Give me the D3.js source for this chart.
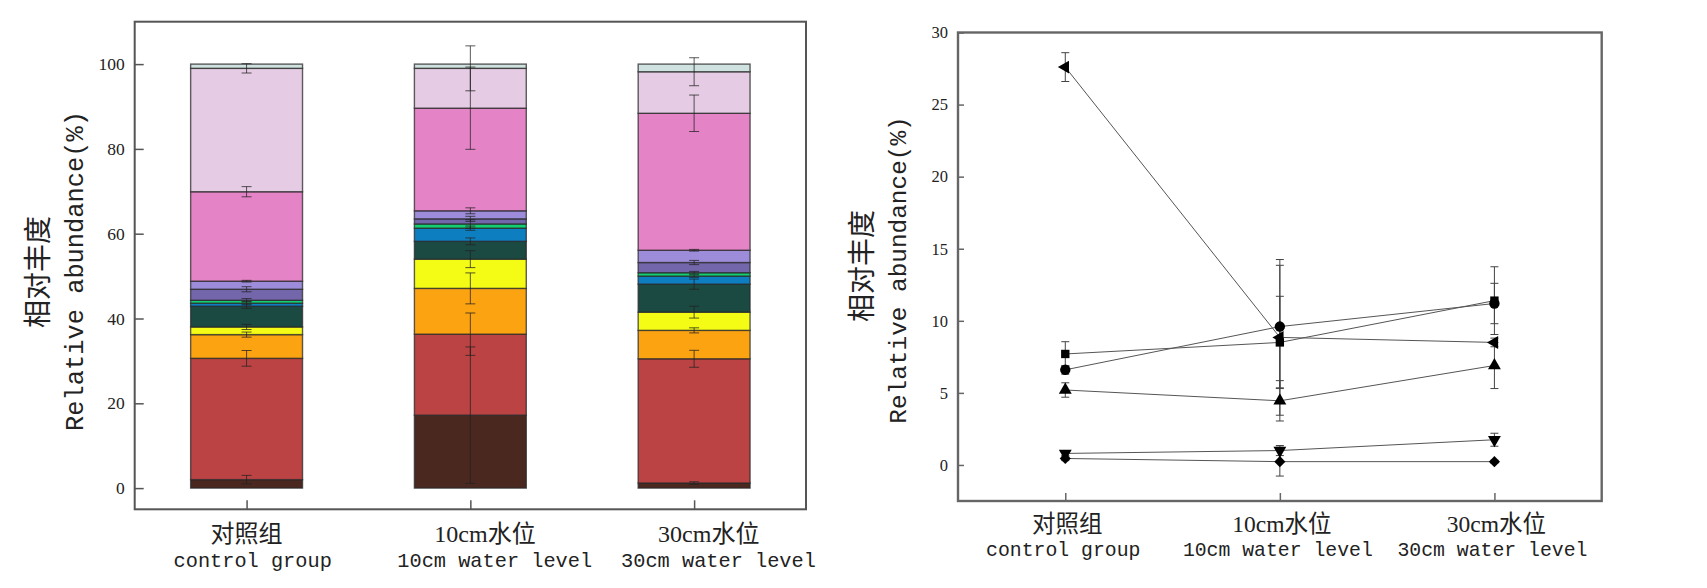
<!DOCTYPE html>
<html>
<head>
<meta charset="utf-8">
<script src="https://cdn.jsdelivr.net/npm/d3@7/dist/d3.min.js"></script>
<style>
  body { margin: 0; background: #fff; }
  svg { display: block; }
</style>
</head>
<body>
<div id="chart"></div>
<script>
// 处理组
var groups = ["对照组", "10cm水位", "30cm水位"];
var groupsEn = ["control group", "10cm water level", "30cm water level"];

// 左图: 堆积柱 (自下而上)
var taxa = ["t1", "t2", "t3", "t4", "t5", "t6", "t7", "t8", "t9", "t10", "t11", "t12"];
var taxaColors = ["#4a2820", "#bc4343", "#fca311", "#f4fb14", "#1b4a42", "#0d7fc0",
                  "#12cf73", "#7466ab", "#9c8cd9", "#e583c7", "#e5cce4", "#cfe2df"];
var stackVals = [
    [2.0, 17.2, 1.2],
    [28.6, 19.1, 29.3],
    [5.6, 10.8, 6.7],
    [1.8, 6.9, 4.3],
    [4.9, 4.2, 6.6],
    [0.7, 3.1, 1.9],
    [0.7, 1.0, 0.8],
    [2.6, 1.2, 2.4],
    [1.9, 1.9, 2.9],
    [21.1, 24.2, 32.3],
    [29.1, 9.4, 9.8],
    [1.0, 1.0, 1.8]
];
var stackErr = [
    [1.0, 16.1, 0.3],
    [1.85, 5.0, 2.0],
    [0.6, 3.65, 0.6],
    [0.6, 2.0, 1.4],
    [0.5, 0.8, 1.2],
    [0.4, 0.5, 0.3],
    [0.4, 1.0, 0.3],
    [0.6, 0.6, 0.5],
    [0.2, 0.7, 0.2],
    [1.2, 9.7, 4.3],
    [1.1, 5.3, 3.3],
    [0, 0, 0]
];
var leftTicks = [0, 20, 40, 60, 80, 100];

// 右图: 折线
var lineSymbols = ["left", "square", "circle", "up", "down", "diamond"];
var lineVals = [
    [27.6, 8.85, 8.5],
    [7.7, 8.5, 11.4],
    [6.6, 9.6, 11.2],
    [5.2, 4.45, 6.9],
    [0.8, 1.0, 1.75],
    [0.45, 0.23, 0.23]
];
var lineErr = [
    [1.0, 5.4, 0.3],
    [0.85, 3.2, 2.35],
    [0.3, 4.25, 1.4],
    [0.5, 1.4, 1.6],
    [0.15, 0.35, 0.45],
    [0.15, 1.0, 0.1]
];
var rightTicks = [0, 5, 10, 15, 20, 25, 30];

var W = 1707, H = 588;
var svg = d3.select("#chart").append("svg").attr("width", W).attr("height", H);
svg.append("rect").attr("width", W).attr("height", H).attr("fill", "#fff");

var cjk = "'Noto Sans CJK SC', sans-serif",
    mono = "'Liberation Mono', monospace",
    serif = "'Liberation Serif', serif";

// ---------- 左图 ----------
var L = {x0: 134.7, x1: 806, y0: 21.7, y1: 509.3};
var xL = d3.scalePoint().domain(groups).range([L.x0, L.x1]).padding(0.5);
var yL = d3.scaleLinear().domain([-5, 110]).range([L.y1, L.y0]);
var barW = xL.step() * 0.5;

// 计算堆积
var rows = groups.map(function (g, j) {
    var r = {group: g};
    taxa.forEach(function (t, i) { r[t] = stackVals[i][j]; });
    return r;
});
var series = d3.stack().keys(taxa)(rows);

var gL = svg.append("g");
series.forEach(function (s, i) {
    gL.selectAll(".seg" + i).data(s).enter().append("rect")
        .attr("x", function (d) { return xL(d.data.group) - barW / 2; })
        .attr("y", function (d) { return yL(d[1]); })
        .attr("width", barW)
        .attr("height", function (d) { return yL(d[0]) - yL(d[1]); })
        .attr("fill", taxaColors[i])
        .attr("stroke", "#2a2a2a")
        .attr("stroke-opacity", 0.75)
        .attr("stroke-width", 1.4);
});
// 误差线 (在每段顶端)
series.forEach(function (s, i) {
    s.forEach(function (d, j) {
        var e = stackErr[i][j];
        if (!e) return;
        var cx = xL(d.data.group), top = yL(d[1] + e), bot = yL(d[1] - e);
        var g = gL.append("g").attr("stroke", "#222").attr("stroke-opacity", 0.75).attr("stroke-width", 1);
        g.append("line").attr("x1", cx).attr("x2", cx).attr("y1", top).attr("y2", bot);
        g.append("line").attr("x1", cx - 5).attr("x2", cx + 5).attr("y1", top).attr("y2", top);
        g.append("line").attr("x1", cx - 5).attr("x2", cx + 5).attr("y1", bot).attr("y2", bot);
    });
});

gL.append("rect").attr("x", L.x0).attr("y", L.y0)
    .attr("width", L.x1 - L.x0).attr("height", L.y1 - L.y0)
    .attr("fill", "none").attr("stroke", "#555").attr("stroke-width", 2);

var axL = svg.append("g").attr("transform", "translate(" + L.x0 + ",0)")
    .call(d3.axisLeft(yL).tickValues(leftTicks).tickSize(-9).tickPadding(10));
axL.select(".domain").remove();
axL.selectAll("line").attr("stroke", "#555").attr("stroke-width", 1.5);
axL.selectAll("text").attr("font-family", serif).attr("font-size", 17.5).attr("fill", "#222");

var axLx = svg.append("g").attr("transform", "translate(0," + L.y1 + ")")
    .call(d3.axisBottom(xL).tickSize(-9).tickFormat(""));
axLx.select(".domain").remove();
axLx.selectAll("line").attr("stroke", "#555").attr("stroke-width", 1.5);

groups.forEach(function (g, j) {
    svg.append("text").attr("x", xL(g) - 36).attr("y", 542)
        .attr("font-family", serif + "," + cjk).attr("font-size", 24).attr("fill", "#222").text(g);
    svg.append("text").attr("x", xL(g) - 73).attr("y", 567)
        .attr("font-family", mono).attr("font-size", 20.3).attr("fill", "#222").text(groupsEn[j]);
});

// y轴标题
svg.append("text").attr("transform", "translate(48,272) rotate(-90)")
    .attr("text-anchor", "middle").attr("font-family", cjk).attr("font-size", 28).attr("fill", "#222")
    .text("相对丰度");
svg.append("text").attr("transform", "translate(83,271) rotate(-90)")
    .attr("text-anchor", "middle").attr("font-family", mono).attr("font-size", 25.4).attr("fill", "#222")
    .text("Relative abundance(%)");

// ---------- 右图 ----------
var R = {x0: 958, x1: 1601.7, y0: 32.5, y1: 501};
var xR = d3.scalePoint().domain(groups).range([R.x0, R.x1]).padding(0.5);
var yR = d3.scaleLinear().domain([-2.5, 30]).range([R.y1, R.y0]);
var gR = svg.append("g");

gR.append("rect").attr("x", R.x0).attr("y", R.y0)
    .attr("width", R.x1 - R.x0).attr("height", R.y1 - R.y0)
    .attr("fill", "none").attr("stroke", "#666").attr("stroke-width", 2.4);

var line = d3.line()
    .x(function (d, j) { return xR(groups[j]); })
    .y(function (d) { return yR(d); });

lineVals.forEach(function (vals) {
    gR.append("path").attr("d", line(vals))
        .attr("fill", "none").attr("stroke", "#555").attr("stroke-width", 1);
});
lineVals.forEach(function (vals, i) {
    vals.forEach(function (v, j) {
        var e = lineErr[i][j], cx = xR(groups[j]), top = yR(v + e), bot = yR(v - e);
        var g = gR.append("g").attr("stroke", "#444").attr("stroke-width", 1);
        g.append("line").attr("x1", cx).attr("x2", cx).attr("y1", top).attr("y2", bot);
        g.append("line").attr("x1", cx - 4).attr("x2", cx + 4).attr("y1", top).attr("y2", top);
        g.append("line").attr("x1", cx - 4).attr("x2", cx + 4).attr("y1", bot).attr("y2", bot);
    });
});
// 标记符号
function markerPath(kind) {
    if (kind === "square") return {d: d3.symbol(d3.symbolSquare, 70)(), rot: 0};
    if (kind === "circle") return {d: d3.symbol(d3.symbolCircle, 85)(), rot: 0};
    if (kind === "diamond") return {d: d3.symbol(d3.symbolSquare, 62)(), rot: 45};
    var tri = d3.symbol(d3.symbolTriangle, 72)();
    if (kind === "up") return {d: tri, rot: 0};
    if (kind === "down") return {d: tri, rot: 180};
    return {d: tri, rot: -90};
}
lineVals.forEach(function (vals, i) {
    var m = markerPath(lineSymbols[i]);
    gR.selectAll(".mk" + i).data(vals).enter().append("path")
        .attr("d", m.d)
        .attr("transform", function (d, j) {
            return "translate(" + xR(groups[j]) + "," + yR(d) + ") rotate(" + m.rot + ")";
        })
        .attr("fill", "#000");
});

var axR = svg.append("g").attr("transform", "translate(" + R.x0 + ",0)")
    .call(d3.axisLeft(yR).tickValues(rightTicks).tickSize(-6).tickPadding(10));
axR.select(".domain").remove();
axR.selectAll("line").attr("stroke", "#666").attr("stroke-width", 1.5);
axR.selectAll("text").attr("font-family", serif).attr("font-size", 16.5).attr("fill", "#222");

var axRx = svg.append("g").attr("transform", "translate(0," + R.y1 + ")")
    .call(d3.axisBottom(xR).tickSize(-8).tickFormat(""));
axRx.select(".domain").remove();
axRx.selectAll("line").attr("stroke", "#666").attr("stroke-width", 1.5);

groups.forEach(function (g, j) {
    svg.append("text").attr("x", xR(g) + 2).attr("y", 532).attr("text-anchor", "middle")
        .attr("font-family", serif + "," + cjk).attr("font-size", 23.5).attr("fill", "#222").text(g);
    svg.append("text").attr("x", xR(g) - 2).attr("y", 556).attr("text-anchor", "middle")
        .attr("font-family", mono).attr("font-size", 19.8).attr("fill", "#222").text(groupsEn[j]);
});

svg.append("text").attr("transform", "translate(872,266) rotate(-90)")
    .attr("text-anchor", "middle").attr("font-family", cjk).attr("font-size", 28).attr("fill", "#222")
    .text("相对丰度");
svg.append("text").attr("transform", "translate(906,270) rotate(-90)")
    .attr("text-anchor", "middle").attr("font-family", mono).attr("font-size", 24.4).attr("fill", "#222")
    .text("Relative abundance(%)");
</script>
</body>
</html>
